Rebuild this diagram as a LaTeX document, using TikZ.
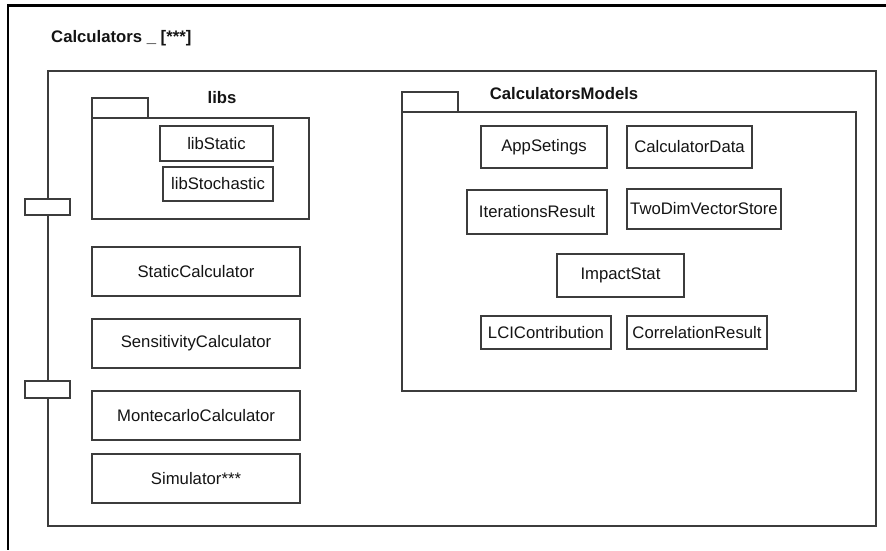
\documentclass[tikz,border=0pt]{standalone}
\usepackage{fontspec}
\setmainfont{Liberation Sans}
\definecolor{edgegray}{HTML}{3C3C3C}
\definecolor{inkblack}{HTML}{141414}

% box given by its corners (x1,y1) and (x2,y2), in pixel units
\newcommand\umlbox[7][]{%
  \node[box,#1, minimum width={#5-#3}, minimum height={#6-#4}]
    (#2) at ({(#3+#5)/2},{(#4+#6)/2}) {#7};}

\begin{document}
\begin{tikzpicture}[x=1pt,y=-1pt,
  every node/.style={font=\fontsize{16.7}{20}\selectfont, text=inkblack, inner sep=0pt},
  box/.style={draw=edgegray, line width=1.4pt, fill=white},
  framerule/.style={line width=2.4pt, black},
  pkglabel/.style={font=\bfseries\fontsize{16.7}{20}\selectfont}]

\fill[white] (0,0) rectangle (886,550);
\useasboundingbox (0,0) rectangle (886,550);

% diagram frame (top and left rules)
\coordinate (frameTR) at (886,5.5);
\coordinate (frameTL) at (8,5.5);
\coordinate (frameBL) at (8,550);
\draw[framerule] (frameTR) -- (frameTL) -- (frameBL);
\node[pkglabel, anchor=west] (title) at (51,38) {Calculators \_ [***]};

% component body and its ports
\umlbox{comp}{48}{71}{876}{526}{}
\umlbox{portA}{25}{199}{70}{215}{}
\umlbox{portB}{25}{381}{70}{398}{}

% package libs
\umlbox{libsTab}{92}{98}{148}{118}{}
\umlbox{libsBody}{92}{118}{309}{219}{}
\node[pkglabel] (libsLabel) at (222,98) {libs};
\umlbox{libStatic}{160}{126}{273}{161}{libStatic}
\umlbox{libStochastic}{163}{167}{273}{201}{libStochastic}

% calculators
\umlbox{staticCalc}{92}{247}{300}{296}{StaticCalculator}
\umlbox{sensCalc}{92}{319}{300}{368}{SensitivityCalculator}
\umlbox{monteCalc}{92}{391}{300}{440}{MontecarloCalculator}
\umlbox{simulator}{92}{454}{300}{503}{Simulator***}

% package CalculatorsModels
\umlbox{modelsTab}{402}{92}{458}{112}{}
\umlbox{modelsBody}{402}{112}{856}{391}{}
\node[pkglabel] (modelsLabel) at (564,94) {CalculatorsModels};
\umlbox{appSet}{481}{126}{607}{168}{AppSetings}
\umlbox{calcData}{627}{126}{752}{168}{CalculatorData}
\umlbox{iterRes}{467}{190}{607}{234}{IterationsResult}
\umlbox{twoDim}{627}{189}{781}{229}{TwoDimVectorStore}
\umlbox{impact}{557}{254}{684}{297}{ImpactStat}
\umlbox{lci}{481}{316}{611}{349}{LCIContribution}
\umlbox{corr}{627}{316}{767}{349}{CorrelationResult}
\end{tikzpicture}
\end{document}
